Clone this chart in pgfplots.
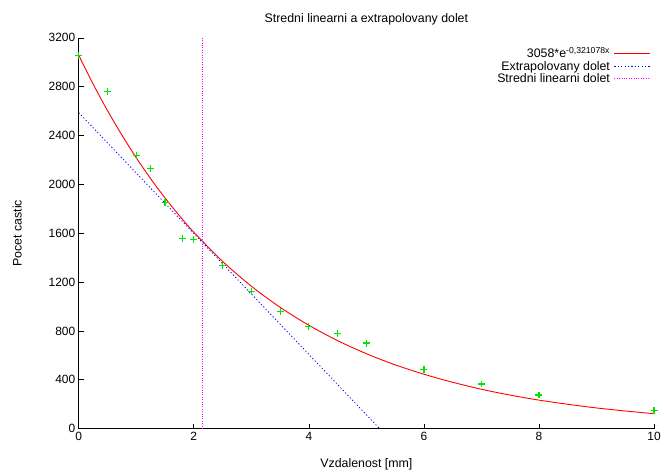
\documentclass[border=0pt]{standalone}
\usepackage{fontspec}
\setmainfont{Liberation Sans}
\usepackage{pgfplots}
\pgfplotsset{compat=1.18}
\definecolor{gpgreen}{RGB}{0,230,0}
\definecolor{gpred}{RGB}{255,0,0}
\definecolor{gpblue}{RGB}{0,0,255}
\definecolor{gpmag}{RGB}{255,0,255}
\newcommand{\gpfont}{\fontsize{12.4}{13}\selectfont}
\begin{document}
\begin{tikzpicture}
\begin{axis}[
    scale only axis,
    width=577pt, height=392pt,
    xmin=0, xmax=10,
    ymin=0, ymax=3200,
    xtick={0,2,4,6,8,10},
    ytick={0,400,800,1200,1600,2000,2400,2800,3200},
    axis x line*=bottom, axis y line*=left,
    axis line style={-, line width=0.8pt},
    tick align=inside,
    major tick length=5pt,
    tick style={black, line width=0.7pt},
    /pgf/number format/assume math mode=true,
    /pgf/number format/1000 sep={},
    ticklabel style={font=\fontsize{12}{14}\selectfont},
    title={\gpfont Stredni linearni a extrapolovany dolet},
    title style={yshift=3pt},
    xlabel={\gpfont Vzdalenost [mm]},
    ylabel={\gpfont Pocet castic},
    xlabel style={yshift=-11pt},
    ylabel style={yshift=20pt},
    legend style={draw=none, fill=none, at={(1.0,0.985)}, anchor=north east,
        nodes={inner xsep=4pt, inner ysep=1.5pt}, row sep=-1pt},
    legend cell align=right,
    legend plot pos=right,
    legend image code/.code={\draw[#1] (0pt,0.3pt) -- (36pt,0.3pt);},
]
\addplot[forget plot, gpred, line width=0.9pt, smooth] coordinates {
    (0,3058) (0.25,2822) (0.5,2604) (0.75,2404) (1,2218) (1.25,2047) (1.5,1889)
    (1.75,1744) (2,1609) (2.5,1370) (3,1167) (3.5,994) (4,847) (4.5,721)
    (5,614) (5.5,523) (6,446) (6.5,380) (7,323) (7.5,275) (8,234)
    (8.5,200) (9,170) (9.5,145) (10,123)
};
\addplot[forget plot, gpblue, line width=0.8pt, dash pattern=on 1.2pt off 2.2pt] coordinates {
    (0,2588) (5.23,0)
};
\addplot[forget plot, gpmag, line width=0.7pt, dash pattern=on 0.8pt off 1.6pt] coordinates {
    (2.15,0) (2.15,3200)
};
\addplot[forget plot, only marks, mark=+, mark size=3.5pt, draw=gpgreen, mark options={draw=gpgreen, line width=1.2pt}] coordinates {
    (0,3055) (0.5,2759) (1,2237) (1.25,2128) (1.5,1853) (1.8,1558) (2,1551)
    (2.5,1335) (3,1122) (3.5,957) (4,840) (4.5,782) (5,701)
    (6,486) (7,366) (8,276) (10,150)
};
\addlegendimage{draw=gpred, line width=1pt}
\addlegendentry{\gpfont 3058*e\textsuperscript{-0,321078x}}
\addlegendimage{draw=gpblue, line width=0.8pt, dash pattern=on 1.2pt off 2.2pt}
\addlegendentry{\gpfont Extrapolovany dolet}
\addlegendimage{draw=gpmag, line width=0.7pt, dash pattern=on 0.8pt off 1.6pt}
\addlegendentry{\gpfont Stredni linearni dolet}
\end{axis}
\path[use as bounding box] (-79pt,-41pt) rectangle (585pt,430pt);
\end{tikzpicture}
\end{document}
